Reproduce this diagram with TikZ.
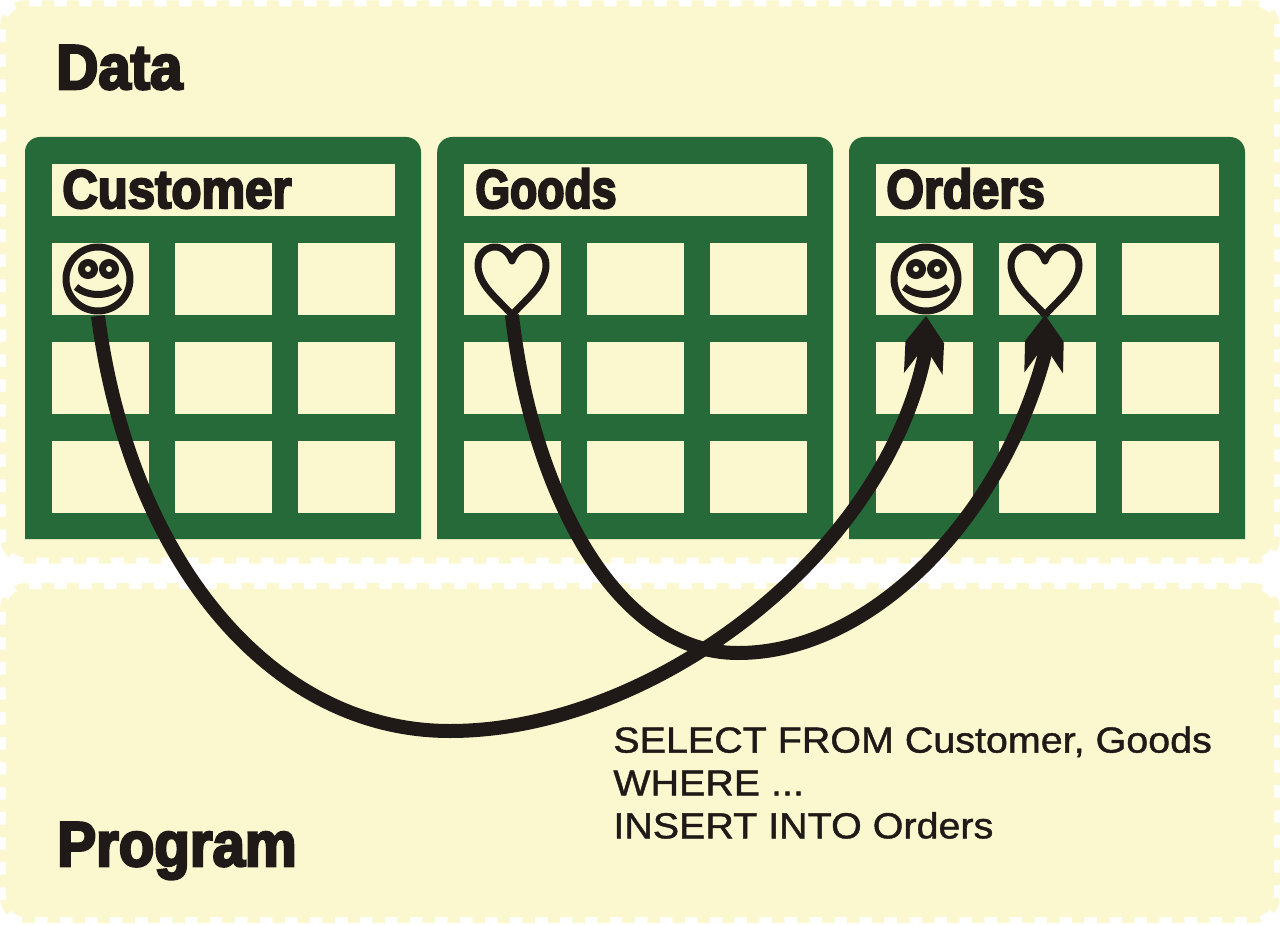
\documentclass[tikz,border=0pt]{standalone}
\usepackage{graphicx}
\usepackage{fontspec}
\setmainfont{Liberation Sans}[FakeBold=1.2,FakeStretch=1.09]
\newfontfamily\headfont[FakeStretch=0.92,FakeBold=4]{Liberation Sans Bold}
\usetikzlibrary{arrows.meta}
\definecolor{cream}{HTML}{FBF7CE}
\definecolor{tablegreen}{HTML}{276A39}
\definecolor{ink}{HTML}{1F1A17}

\pgfdeclarearrow{
  name=Barbed,
  setup code={
    \pgfarrowssettipend{0pt}
    \pgfarrowssetlineend{-17pt}
    \pgfarrowssetvisualbackend{-17pt}
    \pgfarrowssetbackend{-33pt}
    \pgfarrowshullpoint{0pt}{0pt}
    \pgfarrowshullpoint{-33pt}{11pt}
    \pgfarrowshullpoint{-33pt}{-11pt}
  },
  drawing code={
    \pgfpathmoveto{\pgfpoint{0pt}{0pt}}
    \pgfpathlineto{\pgfpoint{-15pt}{11pt}}
    \pgfpathlineto{\pgfpoint{-33pt}{11pt}}
    \pgfpathlineto{\pgfpoint{-23pt}{4pt}}
    \pgfpathlineto{\pgfpoint{-23pt}{-4pt}}
    \pgfpathlineto{\pgfpoint{-33pt}{-11pt}}
    \pgfpathlineto{\pgfpoint{-15pt}{-11pt}}
    \pgfpathclose
    \pgfusepathqfill
  },
  defaults={}
}

\tikzset{
  panel/.style={rectangle,fill=cream,draw=cream,line width=.24cm,dash pattern=on .25cm off .25cm,
    rounded corners=.4cm,outer sep=0pt,inner sep=0pt,minimum width=25.36cm},
  cell/.style={rectangle,fill=cream,inner sep=0pt,outer sep=0pt,minimum width=1.94cm,minimum height=1.44cm},
  headcell/.style={rectangle,fill=cream,inner sep=0pt,outer sep=0pt,minimum width=6.86cm,minimum height=1.04cm},
  title/.style={anchor=base west,inner sep=0pt,text=ink,font=\headfont\fontsize{31}{31}\selectfont},
  bigtitle/.style={title,font=\headfont\fontsize{36}{36}\selectfont},
  face/.style={circle,draw=ink,line width=.14cm,inner sep=0pt,outer sep=0pt,minimum size=1.28cm},
  iconbox/.style={rectangle,inner sep=0pt,outer sep=0pt,minimum width=1.54cm,minimum height=1.44cm},
  feature/.style={draw=ink,line width=.14cm},
  flow/.style={draw=ink,line width=.28cm,-{Barbed}},
  query/.style={anchor=north west,inner sep=0pt,align=left,text=ink,font=\fontsize{20.6}{24.4}\selectfont}
}

\newcommand{\smiley}[2]{
  \node[face] (#1) at #2 {};
  \begin{scope}[shift={(#1)}]
    \draw[feature] (-10,-10) circle[radius=6.5];
    \draw[feature] (11,-10) circle[radius=6.5];
    \draw[feature] (-22,8) .. controls (-10,18) and (10,18) .. (22,8);
  \end{scope}
}
\newcommand{\heartsign}[2]{
  \node[iconbox] (#1) at #2 {};
  \begin{scope}[shift={(#1.south)}]
    \draw[feature,line join=round] (0,0) .. controls (-14,-16) and (-34,-30) .. (-34,-50)
      .. controls (-34,-62) and (-25,-68) .. (-17,-68)
      .. controls (-9,-68) and (-3,-62) .. (0,-54)
      .. controls (3,-62) and (9,-68) .. (17,-68)
      .. controls (25,-68) and (34,-62) .. (34,-50)
      .. controls (34,-30) and (14,-16) .. (0,0);
  \end{scope}
}

\begin{document}
\begin{tikzpicture}[x=.02cm,y=-.02cm]
        \useasboundingbox (0,0) rectangle (1280,925);

        % Panels
        \node[panel,minimum height=11.03cm] (data) at (640,282) {};
        \node[panel,minimum height=6.56cm] (program) at (640,753) {};

        % Tables
        \foreach \tblname/\tblx/\titlex/\titlew in {Customer/25/62/.98,Goods/437.2/475/.89,Orders/849/886/.965} {
            \fill[tablegreen] (\tblx,539) {[rounded corners=.3cm] -- (\tblx,137) -- ++(396,0)} -- ++(0,402) -- cycle;
            \node[headcell] (\tblname-head) at (\tblx+198.5,190) {};
            \node[title] (\tblname-title) at (\titlex,208) {\scalebox{\titlew}[1]{\tblname}};
            \foreach \rownum/\celly in {1/279,2/378,3/477}
                \foreach \colnum/\cellx in {1/75.5,2/198.5,3/321.5}
                    \node[cell] (\tblname-\rownum-\colnum) at (\tblx+\cellx,\celly) {};
        }

        % Icons
        \smiley{smileCustomer}{(98,279)}
        \heartsign{heartGoods}{(512,279)}
        \smiley{smileOrders}{(926,279)}
        \heartsign{heartOrders}{(1045,279)}

        % Connections
        \draw[flow] ([yshift=-.1cm]smileCustomer.south) .. controls (130,560) and (270,731) .. (450,731)
            .. controls (650,731) and (881,558) .. (924,358) -- ([yshift=-.1cm]smileOrders.south);
        \draw[flow] (heartGoods.south) .. controls (530,480) and (610,653) .. (738,653)
            .. controls (870,653) and (1000,520) .. (1044,357) -- (heartOrders.south);

        % Labels
        \node[bigtitle] (dataTitle) at (56,89) {Data};
        \node[bigtitle] (programTitle) at (57,866) {Program};
        \node[query] (queryText) at (613,726) {SELECT FROM Customer, Goods\\WHERE ...\\INSERT INTO Orders};
\end{tikzpicture}
\end{document}
